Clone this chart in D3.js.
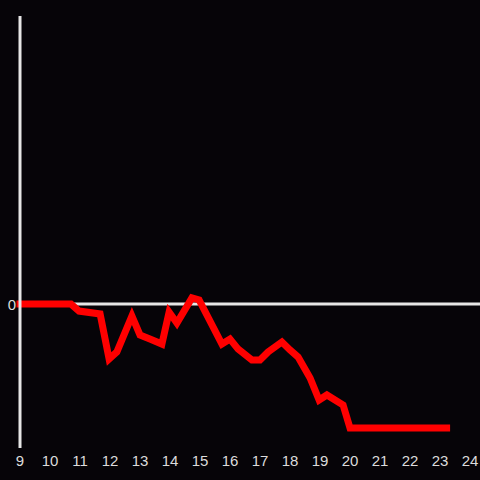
<!DOCTYPE html>
<html><head><meta charset="utf-8">
<script src="https://cdn.jsdelivr.net/npm/d3@7"></script>
<style>html,body{margin:0;padding:0;background:#060408;}svg{display:block;}</style>
</head><body>
<svg id="c" width="480" height="480"></svg>
<script>
const hours = [9, 10.7, 10.97, 11.67, 11.97, 12.23, 12.73, 13.0, 13.33, 13.73, 13.97, 14.23, 14.73, 14.97, 15.73, 16.0, 16.27, 16.73, 17.0, 17.27, 17.73, 18.0, 18.27, 18.67, 18.97, 19.23, 19.77, 20.0, 23.22];
const values = [0, 0, -0.049, -0.069, -0.382, -0.333, -0.083, -0.215, -0.243, -0.278, -0.056, -0.132, 0.042, 0.028, -0.278, -0.243, -0.313, -0.389, -0.389, -0.333, -0.264, -0.319, -0.368, -0.514, -0.667, -0.632, -0.701, -0.861, -0.861];
const xTicks = [9, 10, 11, 12, 13, 14, 15, 16, 17, 18, 19, 20, 21, 22, 23, 24];
const yTicks = [0];

const svg = d3.select("#c");
svg.append("rect").attr("width", 480).attr("height", 480).attr("fill", "#060408");
const x = d3.scaleLinear().domain([9, 24]).range([20, 470]);
const y = d3.scaleLinear().domain([-1, 2]).range([448, 16]);

// zero line
svg.append("line").attr("x1", x(9)).attr("x2", 480).attr("y1", y(0)).attr("y2", y(0))
  .attr("stroke", "#e6e6e6").attr("stroke-width", 3);

// line
const data = hours.map((h, i) => [h, values[i]]);
svg.append("path").datum(data)
  .attr("d", d3.line().x(d => x(d[0])).y(d => y(d[1])))
  .attr("fill", "none").attr("stroke", "#ff0000").attr("stroke-width", 7)
  .attr("stroke-linejoin", "miter").attr("stroke-linecap", "square");

// y axis line
svg.append("line").attr("x1", x(9)).attr("x2", x(9)).attr("y1", 16).attr("y2", 448)
  .attr("stroke", "#e6e6e6").attr("stroke-width", 3);

// x tick labels
svg.selectAll("text.xt").data(xTicks).enter().append("text")
  .attr("class", "xt").attr("x", d => x(d)).attr("y", 466)
  .attr("text-anchor", "middle").attr("fill", "#dcdcdc")
  .attr("font-family", "Liberation Sans, Arial, sans-serif").attr("font-size", 15)
  .text(d => d);

// y tick labels
svg.selectAll("text.yt").data(yTicks).enter().append("text")
  .attr("class", "yt").attr("x", 16).attr("y", d => y(d) + 6)
  .attr("text-anchor", "end").attr("fill", "#dcdcdc")
  .attr("font-family", "Liberation Sans, Arial, sans-serif").attr("font-size", 15)
  .text(d => d);
</script>
</body></html>
